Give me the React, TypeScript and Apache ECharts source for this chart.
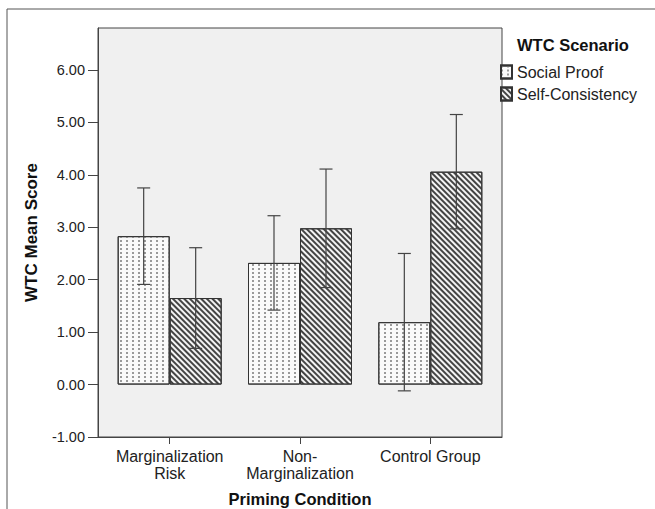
import React, { useEffect, useRef } from "react";
import * as echarts from "echarts";

const categories = ["Marginalization\nRisk", "Non-\nMarginalization", "Control Group"];
const seriesNames = ["Social Proof", "Self-Consistency"];
const socialProof = [2.83, 2.32, 1.19];
const socialProofLow = [1.91, 1.42, -0.12];
const socialProofHigh = [3.75, 3.22, 2.5];
const selfConsistency = [1.65, 2.98, 4.06];
const selfConsistencyLow = [0.69, 1.85, 2.97];
const selfConsistencyHigh = [2.61, 4.11, 5.15];
const yTicks = [-1, 0, 1, 2, 3, 4, 5, 6];
const xTicks = [0, 1, 2];

const FONT = "'Liberation Sans', Arial, sans-serif";

export default function App() {
  const ref = useRef<HTMLDivElement>(null);
  useEffect(() => {
    if (!ref.current) return;
    const chart = echarts.init(ref.current, undefined, { renderer: "svg" });
    const BAR_W = 52;

    const errorSeries = (name: string, low: number[], high: number[], dir: number) => ({
      type: "custom",
      name: name + " error",
      silent: true,
      z: 10,
      data: low.map((l, i) => [i, l, high[i]]),
      renderItem: (params: any, api: any) => {
        const x = api.value(0);
        const lo = api.coord([x, api.value(1)]);
        const hi = api.coord([x, api.value(2)]);
        const cx = lo[0] + (dir * BAR_W) / 2;
        const cap = 6.5;
        const st = { stroke: "#444", lineWidth: 1.2 };
        return {
          type: "group",
          children: [
            { type: "line", shape: { x1: cx, y1: lo[1], x2: cx, y2: hi[1] }, style: st },
            { type: "line", shape: { x1: cx - cap, y1: lo[1], x2: cx + cap, y2: lo[1] }, style: st },
            { type: "line", shape: { x1: cx - cap, y1: hi[1], x2: cx + cap, y2: hi[1] }, style: st },
          ],
        };
      },
    });

    chart.setOption({
      animation: false,
      backgroundColor: "#ffffff",
      textStyle: { fontFamily: FONT },
      graphic: [
        {
          type: "rect",
          shape: { x: 7, y: 9, width: 900, height: 900 },
          style: { fill: "none", stroke: "#555", lineWidth: 1 },
          silent: true,
        },
      ],
      title: {
        text: "WTC Scenario",
        left: 517,
        top: 36,
        padding: 0,
        textStyle: { fontFamily: FONT, fontSize: 16.5, fontWeight: "bold", color: "#111" },
      },
      legend: {
        data: seriesNames,
        orient: "vertical",
        left: 500,
        top: 64,
        padding: 0,
        itemWidth: 11,
        itemHeight: 13,
        itemGap: 6,
        icon: "rect",
        textStyle: { fontFamily: FONT, fontSize: 16, color: "#222" },
      },
      grid: {
        left: 98,
        right: 153,
        top: 28,
        bottom: 72,
        containLabel: false,
        outerBoundsMode: "none",
        show: true,
        backgroundColor: "#f0f0f0",
        borderColor: "#444",
        borderWidth: 1,
      },
      xAxis: {
        type: "value",
        min: -0.55,
        max: 2.55,
        name: "Priming Condition",
        nameLocation: "middle",
        nameGap: 53,
        nameTextStyle: { fontFamily: FONT, fontSize: 16.5, fontWeight: "bold", color: "#111" },
        axisLine: { show: true, onZero: false, lineStyle: { color: "#444" } },
        axisTick: { show: true, customValues: xTicks, length: 7, lineStyle: { color: "#444" } },
        axisLabel: {
          customValues: xTicks,
          formatter: (v: number) => categories[Math.round(v)] ?? "",
          fontFamily: FONT,
          fontSize: 16,
          color: "#222",
          lineHeight: 17,
          margin: 11,
        },
        splitLine: { show: false },
      },
      yAxis: {
        type: "value",
        min: -1,
        max: 6.8,
        interval: 1,
        name: "WTC Mean Score",
        nameLocation: "middle",
        nameGap: 58,
        nameRotate: 90,
        nameTextStyle: { fontFamily: FONT, fontSize: 17, fontWeight: "bold", color: "#111" },
        axisLine: { show: true, onZero: false, lineStyle: { color: "#444" } },
        axisTick: { show: true, customValues: yTicks, length: 10, lineStyle: { color: "#444" } },
        axisLabel: {
          customValues: yTicks,
          formatter: (v: number) => v.toFixed(2),
          fontFamily: FONT,
          fontSize: 14.5,
          color: "#222",
          margin: 13,
        },
        splitLine: { show: false },
      },
      series: [
        {
          type: "bar",
          name: seriesNames[0],
          barWidth: BAR_W,
          barGap: "0%",
          data: socialProof.map((v, i) => [i, v]),
          itemStyle: {
            color: "#fafafa",
            borderColor: "#333",
            borderWidth: 1,
            decal: {
              symbol: "rect",
              symbolSize: 1,
              color: "#9a9a9a",
              backgroundColor: "#fafafa",
              dashArrayX: [1.2, 3.3],
              dashArrayY: [1.2, 1.8],
            },
          },
        },
        {
          type: "bar",
          name: seriesNames[1],
          barWidth: BAR_W,
          barGap: "0%",
          data: selfConsistency.map((v, i) => [i, v]),
          itemStyle: {
            color: "#f4f4f4",
            borderColor: "#333",
            borderWidth: 1,
            decal: {
              symbol: "rect",
              symbolSize: 1,
              color: "#444",
              backgroundColor: "#f4f4f4",
              dashArrayX: [1, 0],
              dashArrayY: [1.4, 1.9],
              rotation: Math.PI / 4,
            },
          },
        },
        errorSeries(seriesNames[0], socialProofLow, socialProofHigh, -1),
        errorSeries(seriesNames[1], selfConsistencyLow, selfConsistencyHigh, 1),
      ],
    });
    return () => chart.dispose();
  }, []);
  return <div ref={ref} style={{ width: 655, height: 509, position: "absolute", left: 0, top: 0 }} />;
}
